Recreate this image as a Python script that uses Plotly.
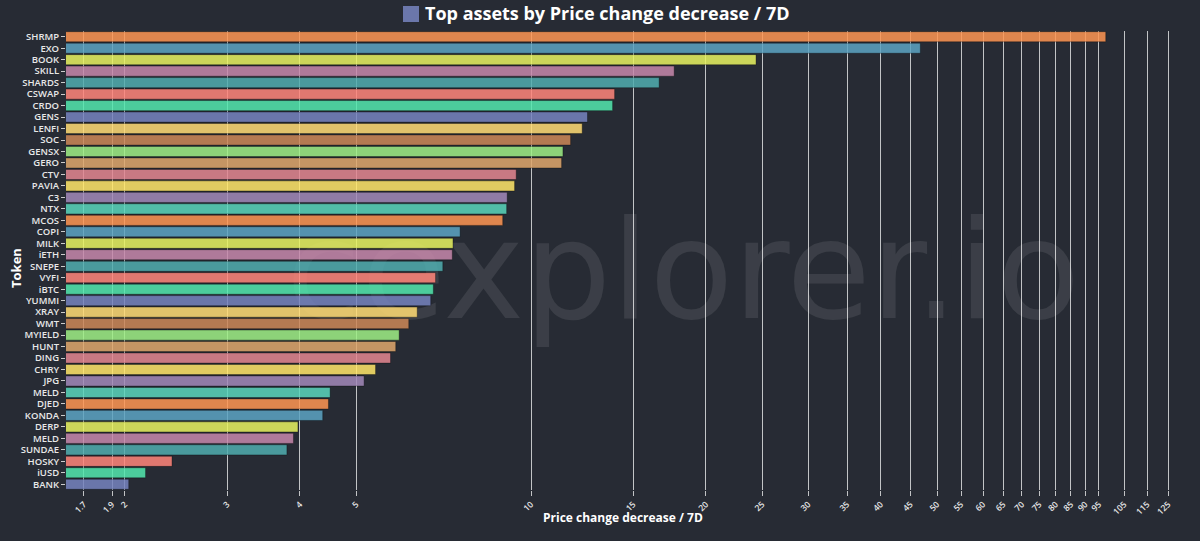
import math
import plotly.graph_objects as go

tokens = ["SHRMP", "EXO", "BOOK", "SKILL", "SHARDS", "CSWAP", "CRDO", "GENS", "LENFI", "SOC",
          "GENSX", "GERO", "CTV", "PAVIA", "C3", "NTX", "MCOS", "COPI", "MILK", "iETH",
          "SNEPE", "VYFI", "iBTC", "YUMMI", "XRAY", "WMT", "MYIELD", "HUNT", "DING", "CHRY",
          "JPG", "MELD", "DJED", "KONDA", "DERP", "MELD", "SUNDAE", "HOSKY", "iUSD", "BANK"]
values = [97.6, 46.8, 24.4, 17.64, 16.62, 13.93, 13.82, 12.51, 12.25, 11.70,
          11.35, 11.29, 9.43, 9.37, 9.10, 9.08, 8.94, 7.55, 7.34, 7.32,
          7.05, 6.85, 6.79, 6.72, 6.37, 6.16, 5.93, 5.85, 5.73, 5.40,
          5.16, 4.51, 4.48, 4.38, 3.97, 3.90, 3.80, 2.41, 2.17, 2.03]
x_ticks = [1.7, 1.9, 2, 3, 4, 5, 10, 15, 20, 25, 30, 35, 40, 45, 50, 55, 60, 65, 70,
           75, 80, 85, 90, 95, 105, 115, 125]
palette = ["#E0874F", "#5593AE", "#CDD65B", "#B07B9A", "#4A9B9E", "#E17870", "#4DCD9D", "#6B77AB",
           "#FEC26B", "#B57A53", "#8DD37A", "#C49664", "#C97984", "#E3CC62", "#917CA6", "#53BEA9"]

BG = "#272b34"
OPA = 0.86
bg_rgb = (0x27, 0x2b, 0x34)


def compensate(hexc):
    r, g, b = int(hexc[1:3], 16), int(hexc[3:5], 16), int(hexc[5:7], 16)
    out = []
    for c, k in zip((r, g, b), bg_rgb):
        v = (c - (1 - OPA) * k) / OPA
        out.append(max(0, min(255, round(v))))
    return "rgb(%d,%d,%d)" % tuple(out)


n = len(tokens)
pos = list(range(n))
colors = [compensate(palette[i % len(palette)]) for i in range(n)]

fig = go.Figure()
fig.add_trace(go.Bar(
    x=values, y=pos, orientation="h",
    marker=dict(color=colors, line=dict(color="rgba(0,0,0,0.35)", width=1)),
    opacity=OPA, width=0.88, showlegend=False,
    hovertext=tokens, hoverinfo="text+x",
))

FONT = "Open Sans"
grid_c = "rgba(255,255,255,0.72)"
L, R, T, B = 66, 20, 31, 51
PW, PH = 1200 - L - R, 541 - T - B


def px_x(x):
    return (x - L) / PW


def px_y(y):
    return (541 - B - y) / PH


fig.update_layout(
    width=1200, height=541,
    paper_bgcolor=BG, plot_bgcolor=BG,
    margin=dict(l=L, r=R, t=T, b=B, autoexpand=False),
    font=dict(family=FONT, color="#e8e8e8"),
    title=dict(text="<b>Top assets by Price change decrease / 7D</b>",
               x=425 / 1200, xanchor="left", xref="container",
               y=1 - 14 / 541, yanchor="middle", yref="container",
               font=dict(size=18, color="#ffffff", family=FONT)),
    xaxis=dict(type="log", range=[math.log10(1.583), math.log10(131)],
               tickvals=x_ticks, ticktext=[str(v) for v in x_ticks],
               tickangle=-45, showgrid=True, gridcolor=grid_c, gridwidth=1,
               ticks="outside", ticklen=5, tickcolor=grid_c, automargin=False,
               tickfont=dict(size=8.5, color="#e8e8e8", family=FONT, weight=600),
               zeroline=False, showline=False),
    yaxis=dict(tickvals=pos, ticktext=tokens, range=[n - 0.5, -0.5],
               showgrid=False, zeroline=False, showline=False, automargin=False,
               ticks="outside", ticklen=4, tickcolor="#cccccc",
               tickfont=dict(size=9.5, color="#e8e8e8", family=FONT, weight=600)),
    annotations=[
        dict(text="<b>Price change decrease / 7D</b>", xref="paper", yref="paper",
             x=0.5, y=px_y(517), xanchor="center", yanchor="middle", showarrow=False,
             font=dict(size=12, color="#ffffff", family=FONT)),
        dict(text="<b>Token</b>", xref="paper", yref="paper", textangle=-90,
             x=px_x(16), y=px_y(268), xanchor="center", yanchor="middle", showarrow=False,
             font=dict(size=13, color="#ffffff", family=FONT)),
    ],
    shapes=[
        dict(type="rect", xref="paper", yref="paper",
             x0=px_x(403), x1=px_x(419), y0=px_y(22), y1=px_y(6),
             fillcolor="#6B77AB", line=dict(width=0)),
        dict(type="rect", xref="paper", yref="paper", layer="below",
             x0=0.05, x1=px_x(1086), y0=0.396, y1=0.606,
             fillcolor="rgba(0,0,0,0)", line=dict(width=0),
             label=dict(text="cexplorer.io", textposition="middle right",
                        font=dict(size=137, color="rgba(255,255,255,0.095)", family="DejaVu Sans"))),
    ],
)

fig.write_html("out.html")
